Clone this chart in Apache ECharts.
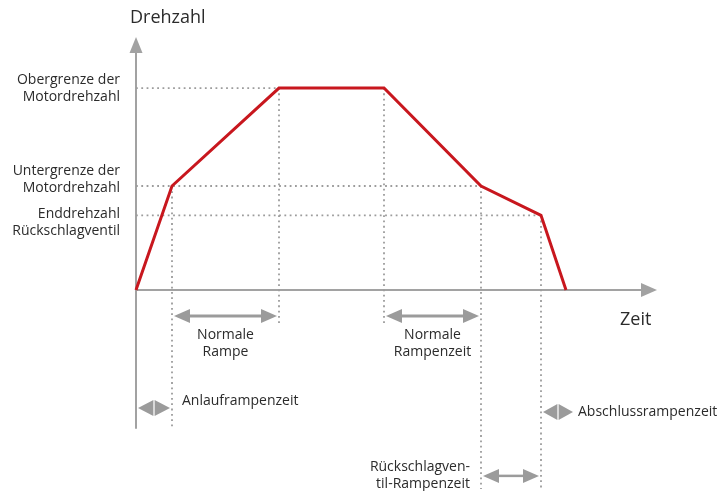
<!DOCTYPE html>
<html>
<head>
<meta charset="utf-8">
<script src="https://cdn.jsdelivr.net/npm/echarts@6/dist/echarts.min.js"></script>
<style>
  html, body { margin: 0; padding: 0; background: #fff; }
  #chart { width: 723px; height: 491px; }
</style>
</head>
<body>
<div id="chart"></div>
<script>
// Speed profile of the motor over time (arbitrary time units, speed in % of upper limit)
const timeSteps   = [0, 3.6, 14.3, 24.8, 34.5, 40.5, 43.0];
const speedValues = [0, 51.5, 100, 100, 51.5, 37, 0];

// Speed levels marked on the vertical axis
const levelLabels = ['Obergrenze der\nMotordrehzahl', 'Untergrenze der\nMotordrehzahl', 'Enddrehzahl\nRückschlagventil'];
const levelValues = [100, 51.5, 37];
const levelEnds   = [14.3, 34.5, 40.5];

// Vertical guides dropped from the profile corners
const guideTimes   = [3.6, 14.3, 24.8, 34.5, 40.5];
const guideTops    = [51.5, 100, 100, 51.5, 37];
const guideBottoms = [-68, -17, -17, -98.5, -98.5];

// Ramp phases shown as double arrows below the time axis
const spanLabels = ['Anlauframpenzeit', 'Normale\nRampe', 'Normale\nRampenzeit', 'Rückschlagven-\ntil-Rampenzeit', 'Abschlussrampenzeit'];
const spanStarts = [0, 3.6, 24.8, 34.5, 40.5];
const spanEnds   = [3.6, 14.3, 34.5, 40.5, 43.9];
const spanRows   = [-58.4, -12.9, -12.9, -92, -60.4];

const axisTitles = ['Drehzahl', 'Zeit'];

// ---- styling / layout ----
const RED = '#c8171e';
const AXIS_GRAY = '#a2a2a2';
const ARROW_GRAY = '#9b9b9b';
const DOT_GRAY = '#9c9c9c';
const TEXT = '#2b2b2b';
const FONT = '"Open Sans", "Noto Sans", sans-serif';
const LABEL_SIZE = 14;
const TITLE_SIZE = 18;

// text placement relative to the anchored value (pixels)
const levelLabelOffsets = [[-16, 0], [-16, -6], [-16, 7]];
const spanLabelLayout = [
  { at: 'end',    dx: 10,  dy: -7, align: 'left',   vAlign: 'middle' },
  { at: 'middle', dx: 0,   dy: 27, align: 'center', vAlign: 'middle' },
  { at: 'middle', dx: 0,   dy: 27, align: 'center', vAlign: 'middle' },
  { at: 'start',  dx: -11, dy: 0,  align: 'right',  vAlign: 'middle' },
  { at: 'end',    dx: 3,   dy: 0,  align: 'left',   vAlign: 'middle' }
];

const chart = echarts.init(document.getElementById('chart'), null, { renderer: 'canvas' });

const profileData = timeSteps.map((t, i) => [t, speedValues[i]]);

const guideSegments = [];
levelValues.forEach((v, i) => guideSegments.push([0, v, levelEnds[i], v]));
guideTimes.forEach((t, i) => guideSegments.push([t, guideTops[i], t, guideBottoms[i]]));

const spanData = spanStarts.map((s, i) => [s, spanEnds[i], spanRows[i]]);

function textEl(x, y, text, align, vAlign, size) {
  return {
    type: 'text', x: x, y: y,
    style: {
      text: text, align: align, verticalAlign: vAlign,
      fontSize: size, fontFamily: FONT, fill: TEXT, lineHeight: 17
    }
  };
}

function tri(tipX, baseX, y, half) {
  return {
    type: 'polygon',
    shape: { points: [[tipX, y], [baseX, y - half], [baseX, y + half]] },
    style: { fill: ARROW_GRAY }
  };
}

const option = {
  animation: false,
  grid: { left: 136, right: 74, top: 45, bottom: 63 },
  xAxis: {
    type: 'value', min: 0, max: 51.3,
    axisLine: {
      show: true, onZero: true,
      lineStyle: { color: AXIS_GRAY, width: 2 },
      symbol: ['none', 'triangle'], symbolSize: [14, 16]
    },
    axisTick: { show: false }, axisLabel: { show: false }, splitLine: { show: false }
  },
  yAxis: {
    type: 'value', min: -68.3, max: 121.3,
    axisLine: {
      show: true, onZero: false,
      lineStyle: { color: AXIS_GRAY, width: 2 },
      symbol: ['none', 'triangle'], symbolSize: [13, 16]
    },
    axisTick: { show: false }, axisLabel: { show: false }, splitLine: { show: false }
  },
  series: [
    {
      // dotted guide lines
      type: 'custom', clip: false, z: 1, silent: true,
      data: guideSegments,
      renderItem: function (params, api) {
        const p1 = api.coord([api.value(0), api.value(1)]);
        const p2 = api.coord([api.value(2), api.value(3)]);
        return {
          type: 'line',
          shape: { x1: p1[0], y1: p1[1], x2: p2[0], y2: p2[1] },
          style: { stroke: DOT_GRAY, lineWidth: 1.8, lineDash: [1.8, 3.5] }
        };
      }
    },
    {
      // speed profile
      type: 'line', z: 5, silent: true,
      data: profileData,
      symbol: 'none',
      lineStyle: { color: RED, width: 3, join: 'miter' }
    },
    {
      // double arrows for the ramp phases
      type: 'custom', clip: false, z: 3, silent: true,
      data: spanData,
      renderItem: function (params, api) {
        const a = api.coord([api.value(0), api.value(2)]);
        const b = api.coord([api.value(1), api.value(2)]);
        const y = a[1];
        const x1 = a[0] + 2, x2 = b[0] - 2;
        const len = x2 - x1;
        const children = [];
        if (len < 40) {
          const mid = (x1 + x2) / 2;
          children.push(tri(x1, mid - 0.6, y, 8));
          children.push(tri(x2, mid + 0.6, y, 8));
        } else {
          const head = 16, half = 7;
          children.push({
            type: 'line',
            shape: { x1: x1 + head - 1, y1: y, x2: x2 - head + 1, y2: y },
            style: { stroke: ARROW_GRAY, lineWidth: params.dataIndex === 3 ? 2.5 : 3 }
          });
          children.push(tri(x1, x1 + head, y, half));
          children.push(tri(x2, x2 - head, y, half));
        }
        return { type: 'group', children: children };
      }
    },
    {
      // labels of the speed levels
      type: 'custom', clip: false, z: 6, silent: true,
      data: levelValues.map(v => [0, v]),
      renderItem: function (params, api) {
        const p = api.coord([api.value(0), api.value(1)]);
        const off = levelLabelOffsets[params.dataIndex];
        return textEl(p[0] + off[0], p[1] + off[1], levelLabels[params.dataIndex], 'right', 'middle', LABEL_SIZE);
      }
    },
    {
      // labels of the ramp phases
      type: 'custom', clip: false, z: 6, silent: true,
      data: spanData,
      renderItem: function (params, api) {
        const lay = spanLabelLayout[params.dataIndex];
        const a = api.coord([api.value(0), api.value(2)]);
        const b = api.coord([api.value(1), api.value(2)]);
        const x = lay.at === 'start' ? a[0] : lay.at === 'end' ? b[0] : (a[0] + b[0]) / 2;
        return textEl(x + lay.dx, a[1] + lay.dy, spanLabels[params.dataIndex], lay.align, lay.vAlign, LABEL_SIZE);
      }
    },
    {
      // axis titles
      type: 'custom', clip: false, z: 6, silent: true,
      data: [[0, 121.3], [51.3, 0]],
      renderItem: function (params, api) {
        const p = api.coord([api.value(0), api.value(1)]);
        if (params.dataIndex === 0) {
          return textEl(p[0] - 6, p[1] - 27, axisTitles[0], 'left', 'middle', TITLE_SIZE);
        }
        return textEl(p[0] - 29, p[1] + 30, axisTitles[1], 'left', 'middle', TITLE_SIZE);
      }
    }
  ]
};

chart.setOption(option);
</script>
</body>
</html>
